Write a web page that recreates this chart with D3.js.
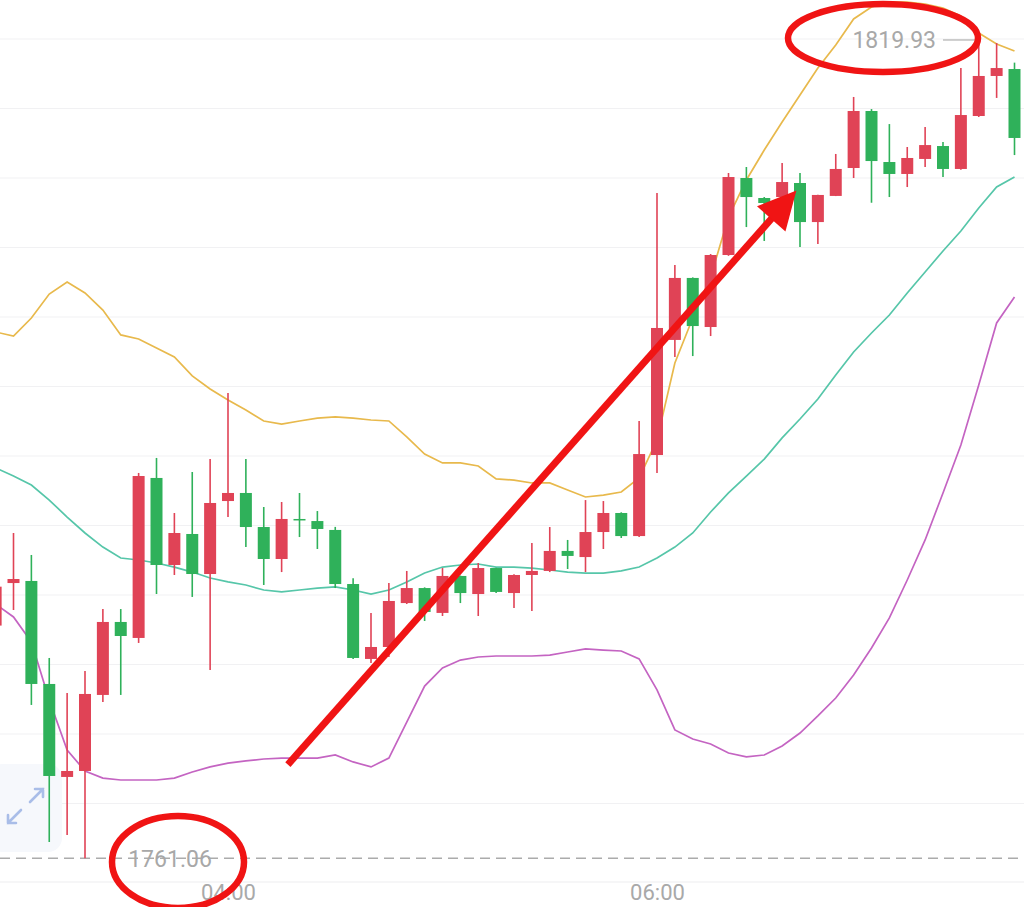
<!DOCTYPE html>
<html><head><meta charset="utf-8">
<script src="https://cdn.jsdelivr.net/npm/d3@7"></script>
<style>html,body{margin:0;padding:0;background:#fff;overflow:hidden}svg{display:block}</style>
</head><body><svg id="c" width="1024" height="907"></svg>
<script>
// ---------- data (5-minute candles) ----------
const times = ["02:55","03:00","03:05","03:10","03:15","03:20","03:25","03:30","03:35","03:40","03:45","03:50","03:55",
 "04:00","04:05","04:10","04:15","04:20","04:25","04:30","04:35","04:40","04:45","04:50","04:55",
 "05:00","05:05","05:10","05:15","05:20","05:25","05:30","05:35","05:40","05:45","05:50","05:55",
 "06:00","06:05","06:10","06:15","06:20","06:25","06:30","06:35","06:40","06:45","06:50","06:55",
 "07:00","07:05","07:10","07:15","07:20","07:25","07:30","07:35","07:40"];
const open  = [1777.8,1780.86,1781.01,1773.60,1766.91,1767.34,1772.81,1778.06,1776.91,1788.42,1782.16,1784.39,1781.51,
 1786.76,1787.34,1784.89,1782.59,1785.47,1785.32,1784.68,1780.79,1775.40,1776.26,1779.42,1780.50,
 1778.71,1781.37,1780.07,1781.94,1780.14,1781.44,1781.73,1783.17,1782.73,1784.53,1785.90,1784.24,
 1790.07,1798.35,1802.81,1799.28,1804.46,1810.00,1808.56,1808.63,1809.64,1806.83,1808.71,1810.72,
 1814.82,1811.15,1810.29,1811.37,1812.30,1810.65,1814.46,1817.34,1817.84];
const high  = [1781.0,1784.46,1782.88,1775.47,1772.95,1774.53,1778.99,1778.99,1788.78,1789.86,1785.90,1788.85,1789.78,
 1794.53,1789.78,1786.33,1786.69,1787.34,1786.04,1784.90,1781.20,1778.71,1780.86,1781.73,1780.55,
 1781.94,1781.40,1782.30,1781.96,1781.50,1783.74,1784.89,1783.96,1786.83,1786.76,1785.95,1792.52,
 1808.92,1803.74,1802.85,1804.53,1810.36,1810.79,1808.63,1811.08,1810.36,1808.80,1811.73,1815.83,
 1814.96,1813.88,1812.23,1813.67,1812.59,1817.91,1819.93,1819.71,1818.30];
const low   = [1777.3,1778.92,1772.09,1762.23,1762.73,1761.06,1772.30,1772.81,1776.55,1780.07,1781.44,1779.86,1774.60,
 1785.61,1783.45,1780.72,1781.65,1784.17,1783.31,1780.50,1775.40,1775.11,1775.54,1779.35,1778.13,
 1778.49,1779.42,1778.49,1780.14,1779.06,1778.85,1781.65,1781.87,1781.65,1783.31,1784.10,1784.17,
 1788.78,1797.12,1797.19,1798.63,1804.40,1806.47,1805.47,1808.60,1805.04,1805.25,1808.70,1810.00,
 1808.22,1808.63,1809.35,1810.79,1810.07,1810.60,1814.39,1815.76,1811.65];
const close = [1780.6,1781.15,1773.60,1766.98,1767.34,1772.88,1778.06,1777.05,1788.56,1782.16,1784.46,1781.51,1786.62,
 1787.34,1784.89,1782.59,1785.47,1785.40,1784.75,1780.79,1775.47,1776.26,1779.57,1780.50,1778.78,
 1781.37,1780.14,1781.94,1780.22,1781.44,1781.73,1783.17,1782.81,1784.53,1785.90,1784.24,1790.14,
 1799.21,1802.81,1799.35,1804.46,1810.07,1808.63,1808.20,1809.71,1806.83,1808.78,1810.65,1814.82,
 1811.22,1810.29,1811.44,1812.37,1810.65,1814.53,1817.34,1817.91,1812.88];
// Bollinger bands
const bollUpper = [1798.92,1798.63,1799.93,1801.65,1802.52,1801.73,1800.50,1798.71,1798.42,1797.77,1797.12,1795.76,1794.82,
 1794.03,1793.31,1792.52,1792.30,1792.52,1792.73,1792.81,1792.73,1792.59,1792.52,1791.37,1790.14,
 1789.50,1789.50,1789.28,1788.35,1788.27,1788.06,1788.06,1787.55,1787.05,1787.19,1787.41,1788.42,
 1791.15,1796.69,1799.93,1802.88,1807.19,1809.86,1812.01,1814.03,1815.97,1817.91,1819.57,1821.44,
 1822.30,1822.66,1822.66,1822.52,1822.23,1821.65,1820.43,1819.64,1819.14];
const bollMid = [1789.14,1788.56,1787.91,1786.83,1785.61,1784.46,1783.45,1782.66,1782.52,1782.30,1782.01,1781.65,1781.22,
 1780.94,1780.72,1780.36,1780.22,1780.36,1780.50,1780.58,1780.36,1780.07,1780.36,1780.94,1781.58,
 1782.01,1782.16,1782.23,1782.01,1782.01,1781.94,1781.80,1781.65,1781.58,1781.58,1781.73,1782.01,
 1782.66,1783.45,1784.46,1785.97,1787.34,1788.56,1789.78,1791.30,1792.66,1794.10,1795.83,1797.48,
 1798.85,1800.14,1801.73,1803.24,1804.75,1806.19,1807.84,1809.35,1810.07];
const bollLower = [1779.35,1778.42,1776.62,1772.45,1768.85,1767.34,1766.83,1766.69,1766.69,1766.69,1766.83,1767.27,1767.63,
 1767.91,1768.06,1768.20,1768.27,1768.27,1768.27,1768.49,1767.99,1767.63,1768.27,1770.86,1773.45,
 1774.75,1775.32,1775.54,1775.61,1775.61,1775.61,1775.68,1775.90,1776.12,1776.04,1775.97,1775.40,
 1773.17,1770.29,1769.64,1769.28,1768.63,1768.35,1768.49,1769.14,1770.07,1771.30,1772.59,1774.25,
 1776.19,1778.35,1781.08,1783.96,1787.34,1790.79,1795.11,1799.57,1801.44];
const gridPrices = [1820,1815,1810,1805,1800,1795,1790,1785,1780,1775,1770,1765];
const timeTicks = ["04:00","06:00"];
const highMark = 1819.93, lowMark = 1761.06;
// hand-drawn annotation arrow (time index / price)
const arrowFrom = {i: 16.35, p: 1767.8}, arrowTo = {i: 44.8, p: 1809.1};

// ---------- layout ----------
const W = 1024, H = 907;
const svg = d3.select("#c");
const parse = d3.timeParse("%H:%M");
const T = times.map(parse);
const x = d3.scaleTime().domain([parse("04:00"), parse("06:00")]).range([228, 657]);
const y = d3.scaleLinear().domain([1765, 1820]).range([803.5, 39]);
const xi = i => { const a = Math.floor(i), f = i - a; return x(T[a]) + f * (x(T[a+1]) - x(T[a])); };

// grid
svg.append("g").selectAll("line").data(gridPrices).join("line")
  .attr("x1", 0).attr("x2", W).attr("y1", d => y(d)).attr("y2", d => y(d))
  .attr("stroke", "#f1f1f3").attr("stroke-width", 1.2);
// bottom axis line
svg.append("line").attr("x1",0).attr("x2",W).attr("y1",882).attr("y2",882).attr("stroke","#eeeeef").attr("stroke-width",1.2);

// expand icon background
svg.append("rect").attr("x",-12).attr("y",764).attr("width",74).attr("height",88).attr("rx",14)
  .attr("fill","#f6f8fc");

// low dashed line
svg.append("line").attr("x1",0).attr("x2",W).attr("y1",y(lowMark)).attr("y2",y(lowMark))
  .attr("stroke","#ababab").attr("stroke-width",1.6).attr("stroke-dasharray","10,6");

// bands
const idx = d3.range(times.length);
const mk = arr => d3.line().x(i => x(T[i])).y(i => y(arr[i]));
[[bollUpper,"#e8b94c"],[bollMid,"#56c6a9"],[bollLower,"#c464c2"]].forEach(([arr,c]) => {
  svg.append("path").attr("d", mk(arr)(idx)).attr("fill","none").attr("stroke",c).attr("stroke-width",1.7);
});

// candles
const up = "#e04356", dn = "#2fb15a", bw = 12;
const g = svg.append("g");
g.selectAll("line").data(idx).join("line")
  .attr("x1", i => x(T[i])).attr("x2", i => x(T[i]))
  .attr("y1", i => y(high[i])).attr("y2", i => y(low[i]))
  .attr("stroke", i => close[i] >= open[i] ? up : dn).attr("stroke-width", 1.6);
g.selectAll("rect").data(idx).join("rect")
  .attr("x", i => x(T[i]) - bw/2).attr("width", bw)
  .attr("y", i => y(Math.max(open[i], close[i])))
  .attr("height", i => Math.max(1.5, Math.abs(y(open[i]) - y(close[i]))))
  .attr("fill", i => close[i] >= open[i] ? up : dn);

// x axis labels
const ax = svg.append("g").attr("transform","translate(0,882)")
  .call(d3.axisBottom(x).tickValues(timeTicks.map(parse)).tickFormat(d3.timeFormat("%H:%M")).tickSize(0).tickPadding(2));
ax.select(".domain").remove();
ax.selectAll("text").attr("fill","#a9a9a9").attr("font-family","Roboto, 'Noto Sans', sans-serif").attr("font-size",22);

// high / low labels
const lf = "Roboto, 'Noto Sans', sans-serif";
svg.append("text").attr("x",936).attr("y",y(highMark)).attr("dy","0.36em").attr("text-anchor","end")
  .attr("font-family",lf).attr("font-size",23).attr("fill","#a8a8a8").text(highMark.toFixed(2));
svg.append("line").attr("x1",943).attr("x2",x(T[55])-4).attr("y1",y(highMark)).attr("y2",y(highMark))
  .attr("stroke","#b5b5b5").attr("stroke-width",1.3);
svg.append("text").attr("x",170).attr("y",y(lowMark)).attr("dy","0.36em").attr("text-anchor","middle")
  .attr("font-family",lf).attr("font-size",23).attr("fill","#a8a8a8").text(lowMark.toFixed(2));

// expand icon
const ic = svg.append("g").attr("stroke","#a9bde8").attr("stroke-width",2.6).attr("fill","none").attr("stroke-linecap","round");
ic.append("path").attr("d","M30,802 L43,789 M35,789 L43,789 L43,797");
ic.append("path").attr("d","M21,810 L8,823 M8,815 L8,823 L16,823");

// annotations
const red = "#f01414";
svg.append("ellipse").attr("cx",883).attr("cy",38).attr("rx",95).attr("ry",34)
  .attr("fill","none").attr("stroke",red).attr("stroke-width",6.5);
svg.append("ellipse").attr("cx",178).attr("cy",862).attr("rx",66).attr("ry",46)
  .attr("fill","none").attr("stroke",red).attr("stroke-width",6.5);
const x0 = xi(arrowFrom.i), y0 = y(arrowFrom.p), x1 = xi(arrowTo.i), y1 = y(arrowTo.p);
const dx = x1 - x0, dy = y1 - y0, L = Math.hypot(dx, dy), ux = dx/L, uy = dy/L;
const hl = 38, hw = 19;
const bx = x1 - ux*hl, by = y1 - uy*hl;
svg.append("line").attr("x1",x0).attr("y1",y0).attr("x2",bx + ux*4).attr("y2",by + uy*4)
  .attr("stroke",red).attr("stroke-width",7);
svg.append("path").attr("d",`M${x1},${y1} L${bx - uy*hw},${by + ux*hw} L${bx + uy*hw},${by - ux*hw} Z`).attr("fill",red);
</script></body></html>
